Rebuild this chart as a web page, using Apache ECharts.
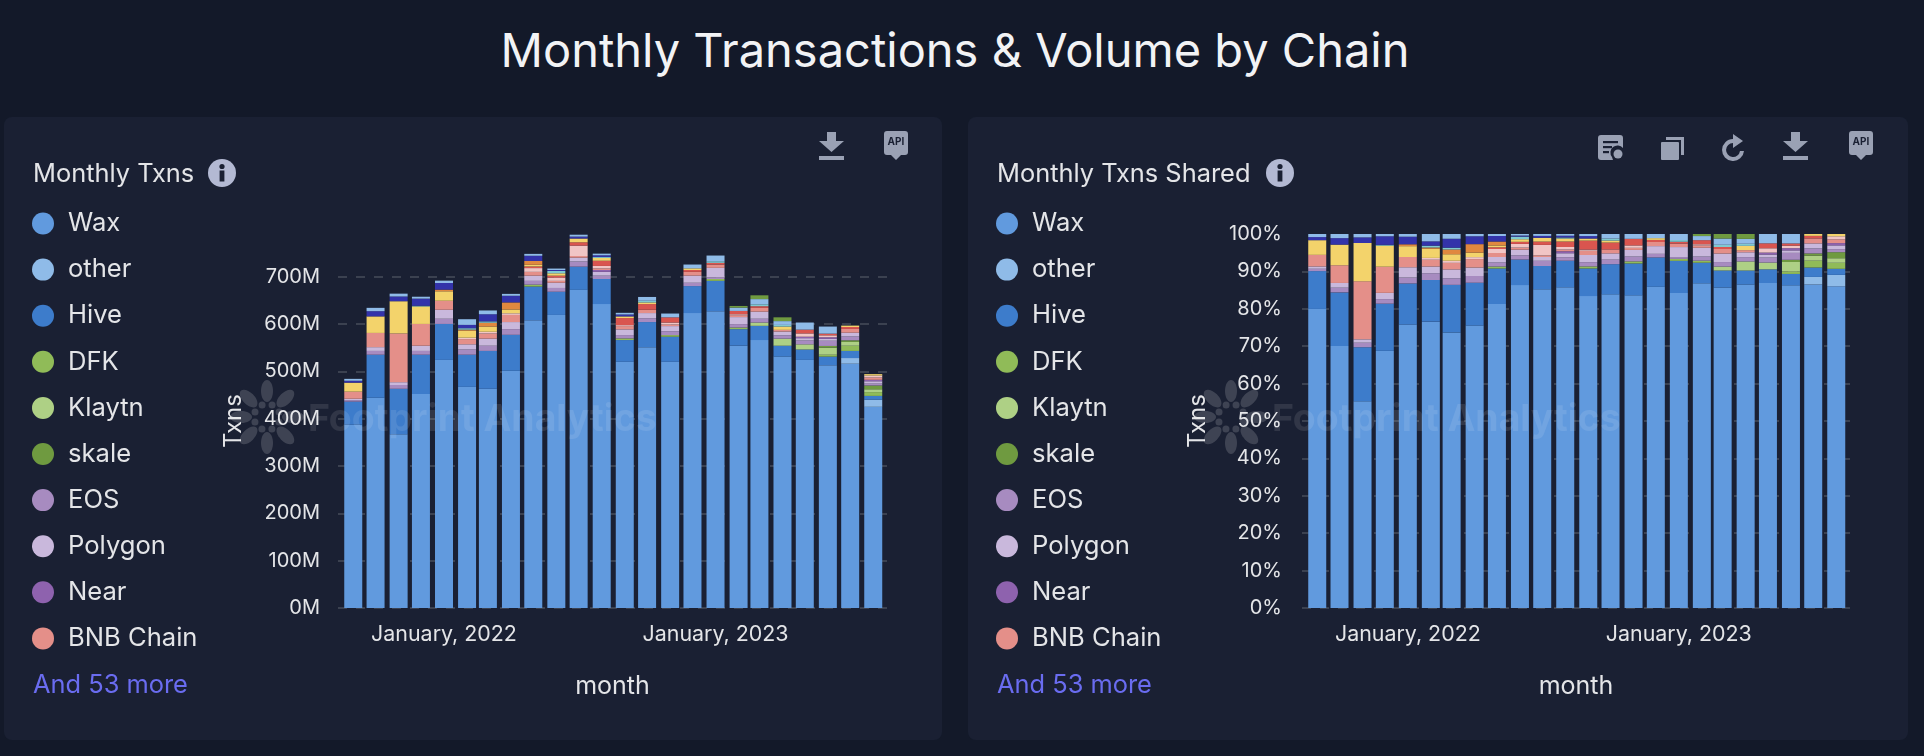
<!DOCTYPE html>
<html>
<head>
<meta charset="utf-8">
<title>Monthly Transactions & Volume by Chain</title>
<script src="https://cdn.jsdelivr.net/npm/echarts@6/dist/echarts.min.js"></script>
<style>
  html, body { margin: 0; padding: 0; width: 1924px; height: 756px; overflow: hidden; background: #131929; font-family: Inter, "Noto Sans", sans-serif; }
  h1 { position: absolute; left: 0; top: 21px; width: 1910px; margin: 0; text-align: center; font-size: 47px; line-height: 58px; font-weight: 400; color: #f2f3f5; }
  .panel { position: absolute; top: 117px; height: 623px; background: #1a2033; border-radius: 8px; }
  .chart { position: absolute; left: 0; top: 0; width: 100%; height: 100%; }
  .icon { position: absolute; fill: #9aa1b4; }
  .info { position: absolute; top: 42px; width: 28px; height: 28px; }
</style>
</head>
<body>
<h1>Monthly Transactions &amp; Volume by Chain</h1>

<div class="panel" style="left:4px;width:938px">
  <div class="chart" id="txnsChart"></div>
  <svg class="info" style="left:204px" viewBox="0 0 28 28"><circle cx="14" cy="14" r="14" fill="#b3b9d3"/><rect x="11.6" y="11.5" width="4.8" height="11" fill="#1a2033"/><circle cx="14" cy="7.5" r="2.6" fill="#1a2033"/></svg>
  <svg class="icon" style="left:815px;top:15px" width="25" height="28" viewBox="0 0 25 28"><path d="M8 0h9v9h8L12.5 20 0 9h8z"/><rect y="24" width="25" height="4"/></svg>
  <svg class="icon" style="left:880px;top:14px" width="24" height="29" viewBox="0 0 24 29"><path d="M3 0h18a3 3 0 0 1 3 3v18a3 3 0 0 1-3 3h-4l-5 5-5-5H3a3 3 0 0 1-3-3V3a3 3 0 0 1 3-3z"/><text x="12" y="14" text-anchor="middle" font-size="10" font-weight="700" fill="#1a2033">API</text></svg>
</div>

<div class="panel" style="left:968px;width:940px">
  <div class="chart" id="shareChart"></div>
  <svg class="info" style="left:298px" viewBox="0 0 28 28"><circle cx="14" cy="14" r="14" fill="#b3b9d3"/><rect x="11.6" y="11.5" width="4.8" height="11" fill="#1a2033"/><circle cx="14" cy="7.5" r="2.6" fill="#1a2033"/></svg>
  <svg class="icon" style="left:630px;top:18px" width="25" height="25" viewBox="0 0 25 25"><path d="M3 0h19a3 3 0 0 1 3 3v10a7 7 0 0 0-11 9l1 3H3a3 3 0 0 1-3-3V3a3 3 0 0 1 3-3z"/><circle cx="20" cy="19" r="4.5"/><rect x="5" y="6" width="15" height="2.2" fill="#1a2033"/><rect x="5" y="11" width="9" height="2.2" fill="#1a2033"/><rect x="5" y="16" width="6" height="2.2" fill="#1a2033"/></svg>
  <svg class="icon" style="left:693px;top:20px" width="23" height="23" viewBox="0 0 23 23"><rect y="5" width="18" height="18" rx="1"/><path d="M5 0h18v18h-3V3H5z"/></svg>
  <svg class="icon" style="left:752px;top:17px" width="25" height="27" viewBox="0 0 25 27"><path d="M13 5a11 11 0 1 0 11 12h-4a7 7 0 1 1-7-8v5l10-7-10-7z"/></svg>
  <svg class="icon" style="left:815px;top:15px" width="25" height="28" viewBox="0 0 25 28"><path d="M8 0h9v9h8L12.5 20 0 9h8z"/><rect y="24" width="25" height="4"/></svg>
  <svg class="icon" style="left:881px;top:14px" width="24" height="29" viewBox="0 0 24 29"><path d="M3 0h18a3 3 0 0 1 3 3v18a3 3 0 0 1-3 3h-4l-5 5-5-5H3a3 3 0 0 1-3-3V3a3 3 0 0 1 3-3z"/><text x="12" y="14" text-anchor="middle" font-size="10" font-weight="700" fill="#1a2033">API</text></svg>
</div>

<script>
// ── DATA ───────────────────────────────────────────
const months = ['2021-09-01','2021-10-01','2021-11-01','2021-12-01','2022-01-01','2022-02-01','2022-03-01','2022-04-01',
  '2022-05-01','2022-06-01','2022-07-01','2022-08-01','2022-09-01','2022-10-01','2022-11-01','2022-12-01',
  '2023-01-01','2023-02-01','2023-03-01','2023-04-01','2023-05-01','2023-06-01','2023-07-01','2023-08-01'];
const tickLabels = ['January, 2022','January, 2023'];
const txnTicks = [0,100,200,300,400,500,600,700];

// monthly txns, millions
const wax     = [387,444,367,452,524,467,463,501,608,619,672,642,520,551,520,623,627,554,566,531,524,513,516,425];
const other   = [0,0,0,0,0,0,0,0,0,0,0,0,0,0,0,0,0,0,0,0,0,0,12,15];
const hive    = [49,91,96,83,76,68,80,76,71,49,49,53,46,53,53,57,64,35,30,23,22,18,15,8];
const dfk     = [0,0,0,0,0,0,0,0,4,0,0,0,3.5,0,3.5,0,4,3.5,0,0,0,4,11,8];
const klaytn  = [0,0,0,0,0,0,0,0,0,0,0,0,0,0,0,0,0,0,7,15,11,15,8,6];
const skale   = [0,0,0,0,0,0,0,0,0,0,0,0,0,0,0,0,0,0,0,0,0,3.5,3.5,8];
const eos     = [3,8,8,8,11,11,11,12,8,8,11,7,7,8,8,7,3.5,7,8,7,8,11,8,4];
const polygon = [3,8,6,11,19,11,15,15,11,11,8,8,12,11,11,15,20,15,15,8,5,4,8,5];
const near    = [0,0,0,0,0,0,0,0,0,0,0,4,0,0,0,0,0,0,0,0,3,3.5,0,3];
const bnb     = [15,30,103,46,19,11,11,15,8,4,3.5,3.5,7,7,3.5,8,7,4,8,3.5,0,0,8,5];
// the rest of the "53 more", only the ones big enough to see
const pale    = [0,0,0,0,0,3,3.5,3.5,8,7,22,5,2,0,4,0,0,2,0,0,7,4,0,4];
const red     = [0,0,0,0,0,0,0,0,3.5,4,7,11,15,12,11,4,3.5,7,3.5,0,8,3.5,4,0];
const yellow  = [19,35,68,37,20,15,11,8,3.5,5,8,6,3.5,3.5,0,3.5,0,0,0,7,0,0,3,3];
const orange  = [0,0,0,0,3.5,2,8,15,8,0,0,0,0,0,0,0,0,0,0,0,0,0,0,0];
const teal    = [0,0,0,1.5,0,3,3,0,0,5,0,2,0,3.5,0,0,3.5,0,4,3.5,0,0,0,0];
const indigo  = [4,11,10,15,14,7,15,14,11,2,4,3.5,4,0,0,0,0,0,0,0,0,0,0,0];
const topBlue = [4,7,6,4,5,12,8,4,4,3,4,3.5,3.5,8,8,8,12,7,11,8,15,15,0,0];
const topGreen = [0,0,0,0,0,0,0,0,0,0,0,0,0,0,0,0,0,3.5,8,8,0,0,0,0];

const legendNames = ['Wax','other','Hive','DFK','Klaytn','skale','EOS','Polygon','Near','BNB Chain'];
const stackNames  = [...legendNames,'pale','red','yellow','orange','teal','indigo','topBlue','topGreen'];
const stackValues = [wax,other,hive,dfk,klaytn,skale,eos,polygon,near,bnb,pale,red,yellow,orange,teal,indigo,topBlue,topGreen];
const stackColors = ['#619ade','#8fbbe8','#3d7ccb','#90bb58','#aed085','#6f9a40','#a78bc0','#c9b8dc','#8e62ae','#e48f89',
  '#f1c5c5','#d9554f','#f3d36b','#e0883f','#7fc9d0','#3333aa','#8fbbe8','#6f9a40'];

// ── CHART ──────────────────────────────────────────
const day = 86400000;
// echarts widens a time axis by half a bar on each side, about 12 days here, so these are tighter than they look
const axisMin = +new Date('2021-09-01') - 8.4 * day;
const axisMax = +new Date('2023-08-01') + 6.4 * day;
const textColor = '#e4e5e8';

function watermark() {
  const petals = [];
  for (let i = 0; i < 8; i++) {
    const a = i * Math.PI / 4;
    petals.push({ type: 'ellipse', silent: true, z: 50, x: 263 + 26 * Math.sin(a), y: 300 - 26 * Math.cos(a), rotation: -a,
      shape: { cx: 0, cy: 0, rx: 6, ry: 11 }, style: { fill: 'rgba(255,255,255,0.16)' } });
    petals.push({ type: 'circle', silent: true, z: 50, x: 263 + 13 * Math.sin(a + 0.4), y: 300 - 13 * Math.cos(a + 0.4),
      shape: { r: 3.5 }, style: { fill: 'rgba(255,255,255,0.16)' } });
  }
  return [...petals, { type: 'text', silent: true, z: 50, x: 304, y: 303,
    style: { text: 'Footprint Analytics', font: '700 37.4px Inter', fill: 'rgba(255,255,255,0.1)', textVerticalAlign: 'middle' } }];
}

// only the January ticks of the time axis carry a label
function januaryLabel(v) {
  const d = new Date(v);
  if (d.getMonth() !== 0 || d.getDate() !== 1) return '';
  return tickLabels.find(t => t.endsWith(String(d.getFullYear()))) || '';
}

function renderChart(id, title, values, yAxis) {
  const chart = echarts.init(document.getElementById(id));
  chart.setOption({
    animation: false,
    title: { text: title, left: 24, top: 40, textStyle: { color: textColor, fontSize: 25.4, fontWeight: 400, fontFamily: 'Inter' } },
    legend: {
      data: legendNames, orient: 'vertical', left: 23, top: 88.5, itemWidth: 22, itemHeight: 22, itemGap: 20.1, icon: 'circle',
      selectedMode: false, textStyle: { color: textColor, fontSize: 25.6, lineHeight: 22, fontFamily: 'Inter', padding: [0, 0, 0, 9] },
    },
    grid: { left: 334, right: id === 'txnsChart' ? 55 : 58, top: 117, bottom: 132 },
    xAxis: {
      type: 'time', min: axisMin, max: axisMax,
      name: 'month', nameLocation: 'middle', nameGap: 66, nameTextStyle: { color: textColor, fontSize: 25, fontFamily: 'Inter' },
      axisLine: { show: false }, axisTick: { show: false }, splitLine: { show: false },
      axisLabel: { color: textColor, fontSize: 21.4, fontFamily: 'Inter', margin: 16, hideOverlap: false, formatter: januaryLabel },
    },
    yAxis: Object.assign({
      type: 'value', name: 'Txns', nameLocation: 'middle', nameTextStyle: { color: textColor, fontSize: 24, fontFamily: 'Inter' },
      axisLine: { show: false }, axisTick: { show: false },
      splitLine: { showMaxLine: false, lineStyle: { color: '#474c5b', type: [9, 9], width: 1.5 } },
    }, yAxis),
    series: stackNames.map((name, i) => ({
      name, type: 'bar', stack: 'total', barWidth: 18, color: stackColors[i],
      data: months.map((m, j) => [+new Date(m), values[i][j]]),
    })),
    graphic: [
      ...watermark(),
      { type: 'text', silent: true, x: 29, y: 568, style: { text: 'And 53 more', font: '25.4px Inter', fill: '#6a6cf0', textVerticalAlign: 'middle' } },
    ],
  });
}

// left: raw txns
renderChart('txnsChart', 'Monthly Txns', stackValues, {
  min: 0, max: 790, interval: 100, nameGap: 92,
  axisLabel: { color: textColor, fontSize: 20, fontFamily: 'Inter', margin: 18, showMaxLabel: false, formatter: v => txnTicks.includes(v) ? v + 'M' : '' },
});

// right: same chains as share of each month's total
const monthTotals = months.map((m, j) => stackValues.reduce((sum, s) => sum + s[j], 0));
const shareValues = stackValues.map(s => s.map((v, j) => v / monthTotals[j]));
renderChart('shareChart', 'Monthly Txns Shared', shareValues, {
  min: 0, max: 1, interval: 0.1, nameGap: 92,
  axisLabel: { color: textColor, fontSize: 20, fontFamily: 'Inter', margin: 20, formatter: v => Math.round(v * 100) + '%' },
});
</script>
</body>
</html>
